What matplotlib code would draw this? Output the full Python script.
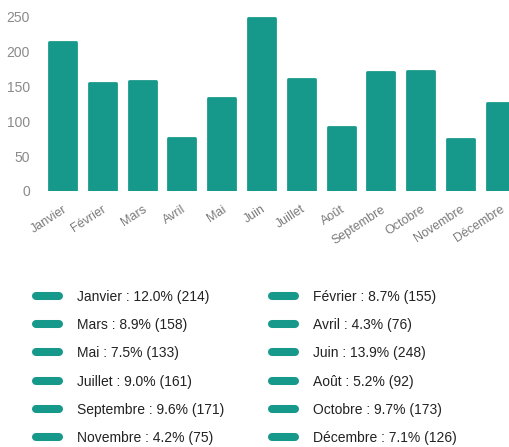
import matplotlib
matplotlib.use("Agg")
import matplotlib.pyplot as plt
from matplotlib.lines import Line2D

months = ["Janvier", "Février", "Mars", "Avril", "Mai", "Juin", "Juillet",
          "Août", "Septembre", "Octobre", "Novembre", "Décembre"]
tickLabels = ["Janvier", "Février", "Mars", "Avril", "Mai", "Juin", "Juillet",
              "Août", "Septembre", "Octobre", "Novembre", "Décembre"]
values = [214, 155, 158, 76, 133, 248, 161, 92, 171, 173, 75, 126]
percents = [12.0, 8.7, 8.9, 4.3, 7.5, 13.9, 9.0, 5.2, 9.6, 9.7, 4.2, 7.1]
yTicks = [0, 50, 100, 150, 200, 250]

color = "#16998a"
grey = "#8a8a8a"

plt.rcParams["font.family"] = ["Liberation Sans", "DejaVu Sans"]

fig = plt.figure(figsize=(5.10, 4.47), dpi=100)
ax = fig.add_axes([0.0835, 0.573, 0.9365, 0.389])

x = list(range(len(values)))
ax.bar(x, values, width=0.68, color=color, edgecolor=color, linewidth=2,
       joinstyle="round")
ax.set_xlim(-0.5, 11.5)
ax.set_ylim(0, 250)
ax.set_yticks(yTicks)
ax.set_yticklabels([str(t) for t in yTicks], color=grey, fontsize=10)
ax.set_xticks(x)
ax.set_xticklabels(tickLabels, rotation=33, ha="right", rotation_mode="anchor",
                   color="#7a7a7a", fontsize=9)
ax.tick_params(axis="y", length=0, pad=9)
ax.tick_params(axis="x", length=0, pad=9)
for s in ax.spines.values():
    s.set_visible(False)

labels = [f"{m} : {p:.1f}% ({v})" for m, p, v in zip(months, percents, values)]
handles = [Line2D([], [], color=color, lw=5.8, solid_capstyle="round") for _ in labels]

common = dict(frameon=False, fontsize=10, handlelength=1.65, handletextpad=1.3,
              labelspacing=1.03, borderpad=0, borderaxespad=0, loc="upper left",
              labelcolor="#222222")
leg1 = fig.legend(handles[0::2], labels[0::2], bbox_to_anchor=(0.0705, 0.352), **common)
leg2 = fig.legend(handles[1::2], labels[1::2], bbox_to_anchor=(0.533, 0.352), **common)

fig.savefig("out.png", dpi=100)
